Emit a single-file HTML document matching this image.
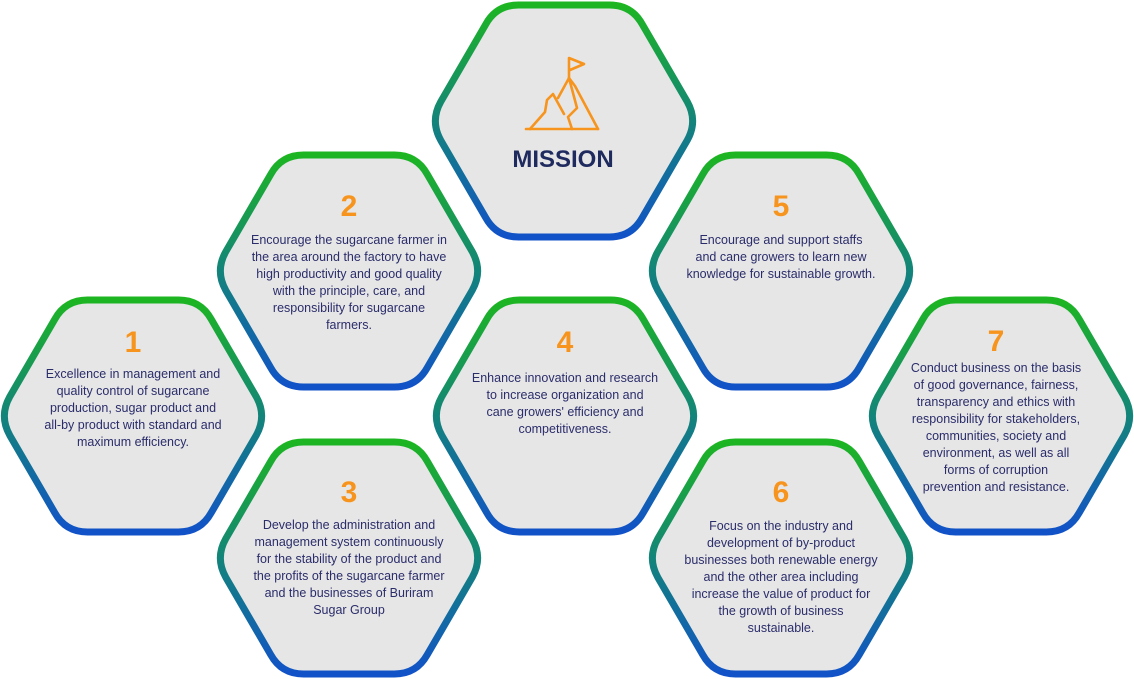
<!DOCTYPE html>
<html><head><meta charset="utf-8"><style>
body{margin:0;background:#fff;}
#w{position:relative;width:1134px;height:679px;overflow:hidden;font-family:"Liberation Sans",sans-serif;}
svg{position:absolute;left:0;top:0;}
.t{position:absolute;width:240px;text-align:center;color:#2b2d6b;font-size:12.5px;line-height:17px;}
.n{position:absolute;width:100px;text-align:center;color:#f7941d;font-size:30px;font-weight:bold;line-height:34px;}
</style></head><body><div id="w">
<svg width="1134" height="679" viewBox="0 0 1134 679">
<defs>
<linearGradient id="g" x1="0" y1="0" x2="0" y2="1">
<stop offset="0" stop-color="#1db522"/><stop offset="0.5" stop-color="#13847a"/><stop offset="1" stop-color="#1152c8"/>
</linearGradient>
<path id="h" d="M-123.3,19.2 Q-134,0 -123.3,-19.2 L-78.2,-96.8 Q-67.5,-116 -45.5,-116 L45.5,-116 Q67.5,-116 78.2,-96.8 L123.3,-19.2 Q134,0 123.3,19.2 L78.2,96.8 Q67.5,116 45.5,116 L-45.5,116 Q-67.5,116 -78.2,96.8 Z" fill="#e6e6e6" stroke="url(#g)" stroke-width="7"/>
</defs>
<use href="#h" transform="translate(564,121)"/>
<use href="#h" transform="translate(349,271)"/>
<use href="#h" transform="translate(781,271)"/>
<use href="#h" transform="translate(133,416)"/>
<use href="#h" transform="translate(565,416)"/>
<use href="#h" transform="translate(1001,416)"/>
<use href="#h" transform="translate(349,558)"/>
<use href="#h" transform="translate(781,558)"/>
<g fill="none" stroke="#f7941d" stroke-width="2.6" stroke-linejoin="round" stroke-linecap="round">
<path d="M526,129 L598,129"/>
<path d="M530,129 L545,112 L547,100 L553,94 L564,114"/>
<path d="M558,98 L569,78 L575,86 L598,129"/>
<path d="M569,78 L577,108 L568,117 L572,129"/>
<path d="M569,78 L569,58 L584,64 L570,70"/>
</g>
<text x="563" y="167" text-anchor="middle" font-family="Liberation Sans, sans-serif" font-weight="bold" font-size="24" fill="#1f2a5e">MISSION</text>
</svg>
<div class="n" style="left:83px;top:326px">1</div>
<div class="t" style="left:13px;top:366px">Excellence in management and<br>quality control of sugarcane<br>production, sugar product and<br>all-by product with standard and<br>maximum efficiency.</div>
<div class="n" style="left:299px;top:190px">2</div>
<div class="t" style="left:229px;top:232px">Encourage the sugarcane farmer in<br>the area around the factory to have<br>high productivity and good quality<br>with the principle, care, and<br>responsibility for sugarcane<br>farmers.</div>
<div class="n" style="left:299px;top:476px">3</div>
<div class="t" style="left:229px;top:517px">Develop the administration and<br>management system continuously<br>for the stability of the product and<br>the profits of the sugarcane farmer<br>and the businesses of Buriram<br>Sugar Group</div>
<div class="n" style="left:515px;top:326px">4</div>
<div class="t" style="left:445px;top:370px">Enhance innovation and research<br>to increase organization and<br>cane growers' efficiency and<br>competitiveness.</div>
<div class="n" style="left:731px;top:190px">5</div>
<div class="t" style="left:661px;top:232px">Encourage and support staffs<br>and cane growers to learn new<br>knowledge for sustainable growth.</div>
<div class="n" style="left:731px;top:476px">6</div>
<div class="t" style="left:661px;top:518px">Focus on the industry and<br>development of by-product<br>businesses both renewable energy<br>and the other area including<br>increase the value of product for<br>the growth of business<br>sustainable.</div>
<div class="n" style="left:946px;top:325px">7</div>
<div class="t" style="left:876px;top:360px">Conduct business on the basis<br>of good governance, fairness,<br>transparency and ethics with<br>responsibility for stakeholders,<br>communities, society and<br>environment, as well as all<br>forms of corruption<br>prevention and resistance.</div>
</div></body></html>
